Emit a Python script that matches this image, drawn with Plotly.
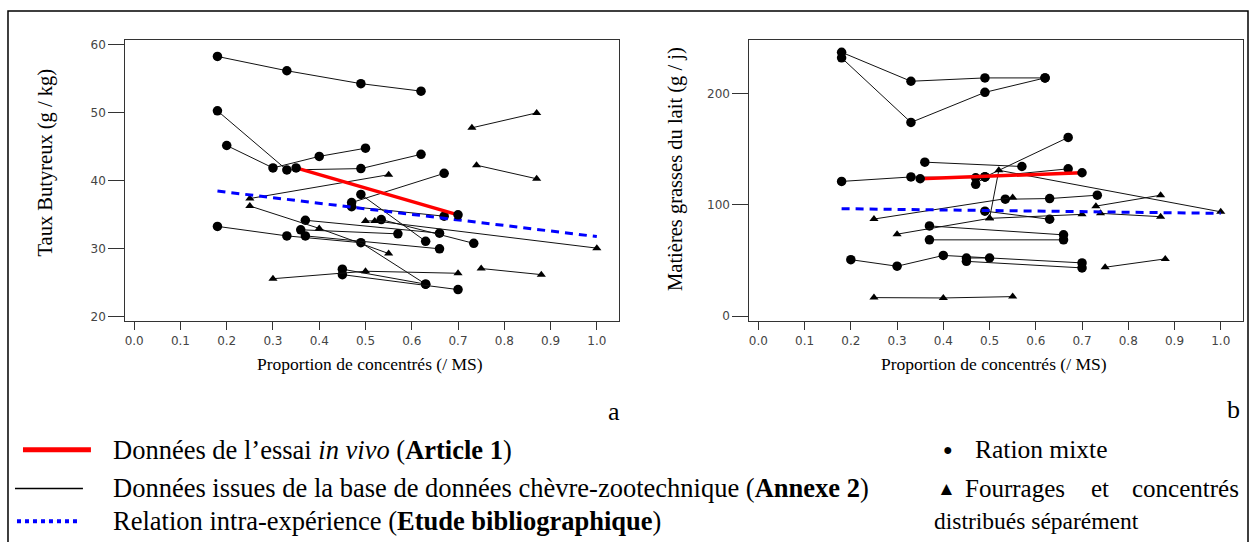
import plotly.graph_objects as go

W, H = 1252, 542

# ---------------- Panel a : Taux Butyreux (g/kg) ----------------
tb_mixed = [
    ([0.18, 0.33, 0.49, 0.62], [58.3, 56.2, 54.3, 53.2]),
    ([0.18, 0.33, 0.49, 0.62], [50.3, 41.6, 41.8, 43.9]),
    ([0.20, 0.30, 0.40, 0.50], [45.2, 41.9, 43.6, 44.8]),
    ([0.47, 0.67], [36.8, 41.1]),
    ([0.47, 0.67], [36.2, 34.8]),
    ([0.49, 0.63], [38.0, 31.1]),
    ([0.37, 0.66], [34.2, 32.3]),
    ([0.534, 0.734], [34.3, 30.8]),
    ([0.36, 0.57], [32.8, 32.2]),
    ([0.18, 0.33, 0.49, 0.63], [33.3, 31.9, 30.9, 24.8]),
    ([0.37, 0.66], [31.9, 30.0]),
    ([0.45, 0.63], [27.0, 24.8]),
    ([0.45, 0.70], [26.2, 24.0]),
]
tb_separate = [
    ([0.73, 0.87], [47.8, 50.0]),
    ([0.74, 0.87], [42.3, 40.3]),
    ([0.25, 0.55], [37.4, 40.9]),
    ([0.25, 0.40, 0.55], [36.3, 33.0, 29.3]),
    ([0.50, 0.52, 1.00], [34.1, 34.1, 30.1]),
    ([0.30, 0.50, 0.70], [25.6, 26.7, 26.4]),
    ([0.75, 0.88], [27.1, 26.2]),
]
tb_trial_x = [0.35, 0.70]
tb_trial_y = [41.9, 35.0]
tb_intra_x = [0.18, 1.00]
tb_intra_y = [38.5, 31.8]

# ---------------- Panel b : Matieres grasses (g/j) ----------------
mg_mixed = [
    ([0.18, 0.33, 0.49, 0.62], [237, 211, 214, 214]),
    ([0.18, 0.33, 0.49, 0.62], [232, 174, 201, 214]),
    ([0.18, 0.33, 0.47], [121, 125, 124.3]),
    ([0.36, 0.57], [138.3, 134.4]),
    ([0.49, 0.67], [125, 160.5]),
    ([0.49, 0.67], [125, 132.3]),
    ([0.47, 0.49], [118.4, 125]),
    ([0.534, 0.63, 0.733], [105, 105.6, 108.6]),
    ([0.49, 0.63], [94.3, 87]),
    ([0.37, 0.66], [81, 73]),
    ([0.37, 0.66], [68.5, 68.5]),
    ([0.20, 0.30, 0.40, 0.70], [50.7, 44.8, 54.5, 47.8]),
    ([0.45, 0.50], [52.2, 52.2]),
    ([0.45, 0.70], [49.2, 43.3]),
]
mg_separate = [
    ([0.25, 0.55], [87.2, 106.5]),
    ([0.30, 0.50, 0.70], [73.6, 87.8, 91.4]),
    ([0.50, 0.52, 1.00], [87.8, 131, 93.7]),
    ([0.73, 0.87], [98.8, 108.6]),
    ([0.74, 0.87], [92.3, 89.3]),
    ([0.75, 0.88], [43.9, 51.4]),
    ([0.25, 0.40, 0.55], [16.6, 16.3, 17.5]),
]
mg_trial_x = [0.35, 0.70]
mg_trial_y = [123.4, 128.8]
mg_intra_x = [0.18, 1.00]
mg_intra_y = [96.5, 92.3]

x_ticks = [0.0, 0.1, 0.2, 0.3, 0.4, 0.5, 0.6, 0.7, 0.8, 0.9, 1.0]
tb_ticks = [20, 30, 40, 50, 60]
mg_ticks = [0, 100, 200]

fig = go.Figure()


def add_panel(mixed, separate, trial_x, trial_y, intra_x, intra_y, xa, ya):
    for xs, ys in mixed:
        fig.add_trace(go.Scatter(x=xs, y=ys, mode="lines+markers", xaxis=xa, yaxis=ya,
                                 line=dict(color="#111", width=1),
                                 marker=dict(symbol="circle", size=9.5, color="black"),
                                 showlegend=False, hoverinfo="skip"))
    for xs, ys in separate:
        fig.add_trace(go.Scatter(x=xs, y=ys, mode="lines+markers", xaxis=xa, yaxis=ya,
                                 line=dict(color="#111", width=1),
                                 marker=dict(symbol="triangle-up", size=8, color="black"),
                                 showlegend=False, hoverinfo="skip"))
    fig.add_trace(go.Scatter(x=intra_x, y=intra_y, mode="lines", xaxis=xa, yaxis=ya,
                             line=dict(color="#0000ff", width=3, dash="8px,6px"),
                             showlegend=False, hoverinfo="skip"))
    fig.add_trace(go.Scatter(x=trial_x, y=trial_y, mode="lines", xaxis=xa, yaxis=ya,
                             line=dict(color="#ff0000", width=3.5),
                             showlegend=False, hoverinfo="skip"))
    fig.add_trace(go.Scatter(x=trial_x, y=trial_y, mode="markers", xaxis=xa, yaxis=ya,
                             marker=dict(symbol="circle", size=9.5, color="black"),
                             showlegend=False, hoverinfo="skip"))


add_panel(tb_mixed, tb_separate, tb_trial_x, tb_trial_y, tb_intra_x, tb_intra_y, "x", "y")
add_panel(mg_mixed, mg_separate, mg_trial_x, mg_trial_y, mg_intra_x, mg_intra_y, "x2", "y2")


def px_x(p):
    return p / W


def px_y(p):
    return 1 - p / H


tickfont = dict(family="DejaVu Sans", size=12, color="#444")
common_x = dict(tickvals=x_ticks, ticktext=["%.1f" % v for v in x_ticks],
                showline=True, mirror=True, linecolor="#333", linewidth=1,
                ticks="outside", ticklen=8, tickcolor="#333", showgrid=False,
                zeroline=False, tickfont=tickfont, range=[-0.0194, 1.0475])
common_y = dict(showline=True, mirror=True, linecolor="#333", linewidth=1,
                ticks="outside", ticklen=16, tickcolor="#333", showgrid=False,
                zeroline=False, tickfont=tickfont)

ydom = [px_y(322.3), px_y(38.3)]
fig.update_layout(
    width=W, height=H, margin=dict(l=0, r=0, t=0, b=0),
    paper_bgcolor="white", plot_bgcolor="white",
    xaxis=dict(domain=[px_x(124.3), px_x(618.3)], anchor="y", **common_x),
    yaxis=dict(domain=ydom, anchor="x", tickvals=tb_ticks, range=[19.33, 60.73], **common_y),
    xaxis2=dict(domain=[px_x(749), px_x(1242.7)], anchor="y2", **common_x),
    yaxis2=dict(domain=ydom, anchor="x2", tickvals=mg_ticks, range=[-4.7, 248.1], **common_y),
)

serif = "Liberation Serif"
ann = []


def text(x, y, s, size, xanchor="left", angle=0, color="black"):
    ann.append(dict(x=px_x(x), y=px_y(y), xref="paper", yref="paper", text=s,
                    showarrow=False, xanchor=xanchor, yanchor="middle", textangle=angle,
                    font=dict(family=serif, size=size, color=color)))


# axis titles
text(369, 365, "Proportion de concentrés (/ MS)", 17.5, "center")
text(994, 365, "Proportion de concentrés (/ MS)", 17.5, "center")
text(45, 162, "Taux Butyreux (g / kg)", 20.5, "center", -90)
text(675, 168, "Matières grasses du lait (g / j)", 20.5, "center", -90)

# panel labels
text(613, 413, "a", 26, "center")
text(1233, 411, "b", 26, "center")

# legend
LF = 26.5
text(110, 452, "Données de l’essai <i>in vivo</i> (<b>Article 1</b>)", LF)
text(110, 491, "Données issues de la base de données chèvre-zootechnique (<b>Annexe 2</b>)", LF)
text(110, 524, "Relation intra-expérience (<b>Etude bibliographique</b>)", LF)
text(948, 452, "●", 16, "center")
text(973, 452, "Ration mixte", 25.5)
text(946, 491, "▲", 19, "center")
text(963, 491, "Fourrages", 25)
text(1100, 491, "et", 25, "center")
text(1241, 491, "concentrés", 25, "right")
text(932, 524, "distribués séparément", 23.5)

shapes = [
    dict(type="line", xref="paper", yref="paper", x0=px_x(22), x1=px_x(90),
         y0=px_y(452), y1=px_y(452), line=dict(color="#ff0000", width=5)),
    dict(type="line", xref="paper", yref="paper", x0=px_x(14), x1=px_x(82),
         y0=px_y(491), y1=px_y(491), line=dict(color="black", width=1.5)),
    dict(type="line", xref="paper", yref="paper", x0=px_x(16), x1=px_x(78),
         y0=px_y(524), y1=px_y(524), line=dict(color="#0000ff", width=4, dash="4px,4px")),
    dict(type="rect", xref="paper", yref="paper", x0=px_x(7), x1=px_x(1248),
         y0=px_y(560), y1=px_y(9), line=dict(color="black", width=1.5)),
]

fig.update_layout(annotations=ann, shapes=shapes)
fig.write_html("out.html", config={"displayModeBar": False},
               post_script="document.body.style.margin='0';document.body.style.overflow='hidden';")
